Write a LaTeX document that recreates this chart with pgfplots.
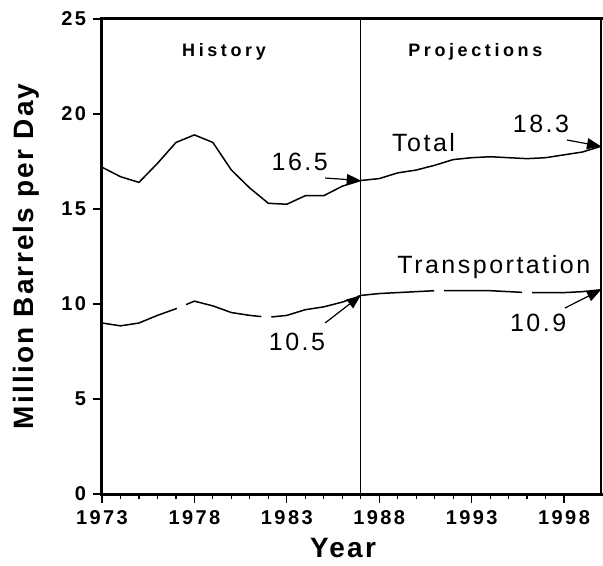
\documentclass[border=0pt]{standalone}
\usepackage{pgfplots}
\pgfplotsset{compat=1.18}
\usepackage{fontspec}
\usetikzlibrary{arrows.meta}
\setmainfont{Liberation Sans}
\newfontfamily\tickf{Liberation Sans}[LetterSpace=12]
\newfontfamily\labf{Liberation Sans}[LetterSpace=8]
\newfontfamily\headf{Liberation Sans}[LetterSpace=20]
\newfontfamily\notef{Liberation Sans}[LetterSpace=10]

\pgfplotstableread{
year total
1973 17.2
1974 16.7
1975 16.4
1976 17.4
1977 18.5
1978 18.9
1979 18.5
1980 17.05
1981 16.1
1982 15.3
1983 15.25
1984 15.7
1985 15.7
1986 16.2
1987 16.5
1988 16.6
1989 16.9
1990 17.05
1991 17.3
1992 17.6
1993 17.7
1994 17.75
1995 17.7
1996 17.65
1997 17.7
1998 17.85
1999 18.0
2000 18.3
}\totaldata

\pgfplotstableread{
year transport
1973 9.0
1974 8.85
1975 9.0
1976 9.4
1977 9.75
1978 10.15
1979 9.9
1980 9.55
1981 9.4
1982 9.3
1983 9.4
1984 9.7
1985 9.85
1986 10.1
1987 10.45
1988 10.55
1989 10.6
1990 10.65
1991 10.7
1992 10.7
1993 10.7
1994 10.7
1995 10.65
1996 10.6
1997 10.6
1998 10.6
1999 10.65
2000 10.75
}\transdata

\tikzset{note/.style={font=\notef\fontsize{12.5}{14}\selectfont},
  callout/.style={line width=0.6pt, -{Triangle[length=7pt,width=5.5pt]}}}

\begin{document}
\begin{tikzpicture}
\begin{axis}[
  scale only axis,
  width=249.5pt, height=237.5pt,
  xmin=1973, xmax=2000,
  ymin=0, ymax=25,
  axis line style={draw=none},
  tick pos=left,
  tick align=outside,
  xtick={1973,1978,1983,1988,1993,1998},
  xticklabels={1973,1978,1983,1988,1993,1998},
  minor x tick num=4,
  ytick={0,5,10,15,20,25},
  yticklabels={0,5,10,15,20,25},
  major tick length=4.5pt,
  minor tick length=2.5pt,
  tick style={black, line width=0.6pt},
  ticklabel style={font=\tickf\bfseries\fontsize{10}{12}\selectfont},
  xlabel={Year},
  ylabel={Million Barrels per Day},
  xlabel style={font=\labf\bfseries\fontsize{14}{16}\selectfont,
    at={(axis description cs:0.483,-0.0926)}, anchor=north, inner sep=0pt},
  ylabel style={font=\labf\bfseries\fontsize{14}{16}\selectfont,
    at={(axis description cs:-0.138,0.5)}, anchor=base, inner sep=0pt},
  clip=false,
]
  % page extent as in the reference
  \path (axis description cs:-0.2044,-0.1495) rectangle (axis description cs:1.004,1.04);

  % frame: heavy left, bottom and top, lighter right side
  \draw[line width=1.5pt, line cap=rect] (rel axis cs:0,0) -- (rel axis cs:0,1) -- (rel axis cs:1,1);
  \draw[line width=1.5pt, line cap=rect] (rel axis cs:0,0) -- (rel axis cs:1,0);
  \draw[line width=0.8pt] (rel axis cs:1,0) -- (rel axis cs:1,1);

  % history / projections divider
  \addplot[black, line width=0.5pt] coordinates {(1987,0) (1987,25)};

  \addplot[black, line width=0.75pt] table[x=year, y=total] {\totaldata};
  \addplot[black, line width=0.75pt, dash pattern=on 39pt off 5pt] table[x=year, y=transport] {\transdata};

  \node[font=\headf\bfseries\fontsize{9}{10}\selectfont] at (axis cs:1979.6,23.26) {History};
  \node[font=\headf\bfseries\fontsize{9}{10}\selectfont] at (axis cs:1993.2,23.26) {Projections};

  \node[note] at (axis cs:1990.4,18.47) {Total};
  \node[note] at (axis cs:1994.2,11.95) {Transportation};

  \node[note] at (axis cs:1983.7,17.47) {16.5};
  \node[note] at (axis cs:1996.75,19.5) {18.3};
  \node[note] at (axis cs:1983.55,8.0) {10.5};
  \node[note] at (axis cs:1996.6,9.0) {10.9};

  \draw[callout] (axis cs:1985.07,16.63) -- (axis cs:1987,16.5);
  \draw[callout] (axis cs:1998.16,18.63) -- (axis cs:2000,18.3);
  \draw[callout] (axis cs:1985.07,9.0) -- (axis cs:1987,10.45);
  \draw[callout] (axis cs:1998.05,9.79) -- (axis cs:2000,10.75);
\end{axis}
\end{tikzpicture}
\end{document}
